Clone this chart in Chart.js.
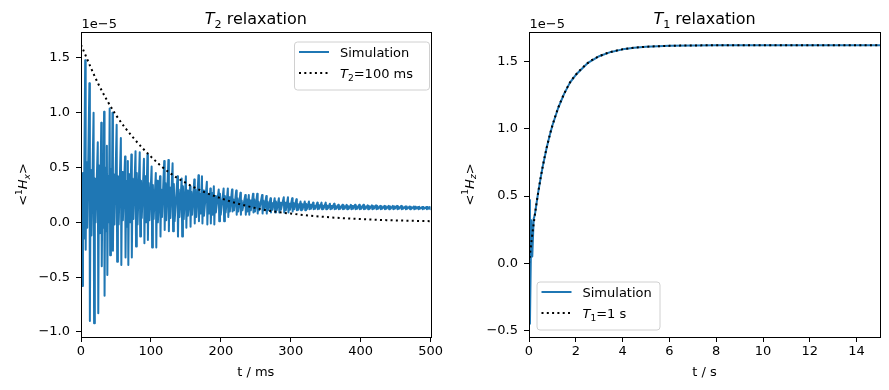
<!DOCTYPE html>
<html>
<head>
<meta charset="utf-8">
<script src="https://cdn.jsdelivr.net/npm/chart.js@4.4.1/dist/chart.umd.min.js"></script>
<style>
  html, body { margin: 0; padding: 0; background: #fff; }
  #wrap { position: relative; width: 889px; height: 390px; }
  .panel { position: absolute; top: 0; height: 390px; }
</style>
</head>
<body>
<div id="wrap">
  <div class="panel" style="left:0;width:445px"><canvas id="chart-t2" width="445" height="390"></canvas></div>
  <div class="panel" style="left:445px;width:444px"><canvas id="chart-t1" width="444" height="390"></canvas></div>
</div>
<script>
// all magnetisation values are in units of 1e-5 (the axis offset text)

// --- T2 panel (t in ms) ---
const t2BarTime = [1, 6, 12, 18, 24, 29, 33, 37, 41, 45,
  51, 57, 63, 67, 72, 78, 84, 90, 95,
  101, 107, 113, 119, 125, 131, 138, 144, 150,
  156, 162, 168, 173, 180, 185, 190, 197, 204,
  210, 216, 222, 228, 235, 240, 246, 252, 259,
  265, 271, 277, 283, 290, 296, 302, 308, 314, 320,
  326, 332, 338, 344, 350, 356, 362, 368, 374, 380, 386, 392, 398,
  404, 410, 416, 422, 428, 434, 440, 446, 452, 458, 464, 470, 476, 482, 488, 494, 499];
const t2BarTop = [0.20, 1.48, 1.27, 1.00, 0.73, 0.91, 1.01, 0.70, 1.04, 1.00,
  0.89, 0.77, 0.60, 0.56, 0.62, 0.65, 0.64, 0.58, 0.62,
  0.51, 0.45, 0.42, 0.56, 0.57, 0.54, 0.42, 0.40, 0.42,
  0.33, 0.39, 0.43, 0.42, 0.37, 0.31, 0.33, 0.30, 0.31,
  0.31, 0.30, 0.29, 0.27, 0.25, 0.25, 0.26, 0.26, 0.25,
  0.24, 0.22, 0.22, 0.22, 0.23, 0.23, 0.22, 0.21, 0.19, 0.19,
  0.19, 0.18, 0.18, 0.18, 0.18, 0.17, 0.17, 0.16, 0.16, 0.16, 0.16, 0.16, 0.16,
  0.16, 0.155, 0.155, 0.155, 0.15, 0.15, 0.15, 0.15, 0.15, 0.15, 0.145, 0.145, 0.145, 0.14, 0.14, 0.14, 0.14];
const t2BarBottom = [-0.58, -0.25, -0.90, -0.92, -0.83, -0.40, -0.67, -0.48, -0.30, -0.26,
  -0.36, -0.39, -0.32, -0.39, -0.32, -0.22, -0.13, -0.19, -0.16,
  -0.23, -0.23, -0.13, -0.07, -0.08, -0.08, -0.13, -0.13, -0.05,
  -0.04, -0.01, 0.01, -0.01, -0.02, -0.01, -0.02, 0.01, 0.01,
  0.05, 0.10, 0.07, 0.07, 0.07, 0.07, 0.09, 0.08, 0.08,
  0.08, 0.09, 0.09, 0.09, 0.09, 0.09, 0.10, 0.11, 0.11, 0.11,
  0.12, 0.12, 0.12, 0.12, 0.12, 0.12, 0.12, 0.12, 0.12, 0.12, 0.12, 0.12, 0.12,
  0.12, 0.12, 0.12, 0.12, 0.12, 0.12, 0.12, 0.12, 0.12, 0.12, 0.12, 0.12, 0.12, 0.12, 0.12, 0.12, 0.12];
// the dense band between the big swings
const t2BandHigh = [0.45, 0.55, 0.48, 0.40, 0.52, 0.45, 0.50, 0.42, 0.48, 0.44,
  0.42, 0.46, 0.38, 0.44, 0.40, 0.45, 0.38, 0.42, 0.36,
  0.34, 0.38, 0.30, 0.36, 0.32, 0.35, 0.30, 0.33, 0.29,
  0.28, 0.30, 0.26, 0.29, 0.25, 0.27, 0.24, 0.26, 0.24,
  0.23, 0.21, 0.22, 0.20, 0.21, 0.20, 0.21, 0.19, 0.20,
  0.19, 0.18, 0.19, 0.18, 0.18, 0.17, 0.18, 0.17, 0.17, 0.17,
  0.16, 0.155, 0.16, 0.155, 0.155, 0.15, 0.155, 0.15, 0.155, 0.15, 0.15, 0.15, 0.15,
  0.15, 0.15, 0.148, 0.15, 0.148, 0.148, 0.148, 0.145, 0.145, 0.145, 0.145, 0.142, 0.142, 0.142, 0.14, 0.14, 0.14];
const t2BandLow = [-0.15, -0.05, -0.12, 0.00, -0.10, -0.05, -0.08, 0.00, -0.06, -0.02,
  -0.02, 0.02, -0.04, 0.00, 0.03, -0.02, 0.04, 0.00, 0.02,
  0.03, 0.00, 0.05, 0.02, 0.04, 0.01, 0.05, 0.03, 0.06,
  0.07, 0.05, 0.08, 0.06, 0.08, 0.07, 0.09, 0.07, 0.09,
  0.10, 0.11, 0.10, 0.11, 0.10, 0.11, 0.10, 0.11, 0.11,
  0.11, 0.115, 0.11, 0.115, 0.11, 0.115, 0.12, 0.115, 0.12, 0.12,
  0.125, 0.125, 0.125, 0.125, 0.125, 0.125, 0.125, 0.125, 0.125, 0.125, 0.125, 0.125, 0.125,
  0.125, 0.125, 0.125, 0.125, 0.125, 0.125, 0.125, 0.125, 0.125, 0.125, 0.125, 0.125, 0.125, 0.125, 0.125, 0.125, 0.125];

const t2FitTime = [0, 25, 50, 75, 100, 125, 150, 175, 200, 225, 250, 275, 300, 325, 350, 375, 400, 425, 450, 475, 500];
const t2FitValue = [1.62, 1.26, 0.98, 0.77, 0.60, 0.46, 0.36, 0.28, 0.22, 0.17, 0.13, 0.10, 0.08, 0.063, 0.049, 0.038, 0.030, 0.023, 0.018, 0.014, 0.011];

const t2XTicks = [0, 100, 200, 300, 400, 500];
const t2YTicks = [-1.0, -0.5, 0.0, 0.5, 1.0, 1.5];

// --- T1 panel (t in s) ---
const t1SimTime = [0, 0.04, 0.1, 0.14, 0.2, 0.25, 0.3, 0.4, 0.5, 0.6, 0.75, 0.9, 1, 1.25, 1.5, 1.75, 2, 2.5, 3, 3.5, 4, 4.5, 5, 6, 7, 8, 10, 12, 15];
const t1SimValue = [0.47, -0.45, 0.32, 0.05, 0.33, 0.36, 0.42, 0.534, 0.637, 0.731, 0.855, 0.961, 1.024, 1.156, 1.259, 1.343, 1.401, 1.487, 1.539, 1.571, 1.59, 1.602, 1.609, 1.616, 1.619, 1.62, 1.62, 1.62, 1.62];
const t1FitTime = [0, 0.1, 0.2, 0.3, 0.4, 0.5, 0.6, 0.75, 0.9, 1, 1.25, 1.5, 1.75, 2, 2.5, 3, 3.5, 4, 4.5, 5, 6, 7, 8, 10, 12, 15];
const t1FitValue = [0, 0.154, 0.294, 0.42, 0.534, 0.637, 0.731, 0.855, 0.961, 1.024, 1.156, 1.259, 1.343, 1.401, 1.487, 1.539, 1.571, 1.59, 1.602, 1.609, 1.616, 1.619, 1.62, 1.62, 1.62, 1.62];

const t1XTicks = [0, 2, 4, 6, 8, 10, 12, 14];
const t1YTicks = [-0.5, 0.0, 0.5, 1.0, 1.5];

const FONT = '"DejaVu Sans", sans-serif';
const BLUE = '#1f77b4';
const DOTS = [2, 3.3];

const fmtY = (v) => (Math.abs(v) < 1e-9 ? '0.0' : v.toFixed(1)).replace('-', '\u2212');

// draws a row of text pieces, mathtext style (italic / sub / sup)
const drawRuns = (ctx, runs, x, y, size, align) => {
  const parts = runs.map((r) => {
    const fs = r.sub || r.sup ? size * 0.7 : size;
    const font = `${r.italic ? 'italic ' : ''}${fs}px ${FONT}`;
    ctx.font = font;
    return { ...r, font, w: ctx.measureText(r.text).width };
  });
  const total = parts.reduce((a, p) => a + p.w, 0);
  let cx = align === 'center' ? x - total / 2 : align === 'right' ? x - total : x;
  ctx.textAlign = 'left';
  ctx.textBaseline = 'alphabetic';
  parts.forEach((p) => {
    ctx.font = p.font;
    const dy = p.sub ? size * 0.22 : p.sup ? -size * 0.42 : 0;
    ctx.fillText(p.text, cx, y + dy);
    cx += p.w;
  });
};

const decorPlugin = {
  id: 'decor',
  afterDraw(chart, args, opts) {
    const { ctx, chartArea: ca } = chart;
    const midX = (ca.left + ca.right) / 2;
    ctx.save();
    ctx.strokeStyle = '#000';
    ctx.lineWidth = 1;
    ctx.strokeRect(Math.round(ca.left) + 0.5, Math.round(ca.top) + 0.5,
      Math.round(ca.right - ca.left), Math.round(ca.bottom - ca.top));

    ctx.fillStyle = '#000';
    drawRuns(ctx, opts.title, midX, 24, 16, 'center');
    drawRuns(ctx, [{ text: '1e\u22125' }], ca.left + 0.5, 28.3, 13, 'left');
    drawRuns(ctx, [{ text: opts.xLabel }], midX, 376, 13, 'center');

    ctx.save();
    ctx.translate(opts.yLabelX, (ca.top + ca.bottom) / 2);
    ctx.rotate(-Math.PI / 2);
    drawRuns(ctx, opts.yLabel, 0, 0, 13, 'center');
    ctx.restore();

    // legend box, matplotlib look
    const lg = opts.legend;
    ctx.beginPath();
    ctx.roundRect(lg.x + 0.5, lg.y + 0.5, lg.w, lg.h, 3);
    ctx.fillStyle = 'rgba(255,255,255,0.8)';
    ctx.fill();
    ctx.strokeStyle = '#d0d0d0';
    ctx.lineWidth = 1;
    ctx.stroke();

    const rows = [
      { y: lg.y + 10.5, color: BLUE, dash: [], runs: [{ text: 'Simulation' }] },
      { y: lg.y + 31.5, color: '#000', dash: DOTS, runs: lg.fitLabel },
    ];
    rows.forEach((row) => {
      ctx.beginPath();
      ctx.setLineDash(row.dash);
      ctx.lineCap = 'butt';
      ctx.strokeStyle = row.color;
      ctx.lineWidth = 2;
      ctx.moveTo(lg.x + 5, row.y);
      ctx.lineTo(lg.x + 35, row.y);
      ctx.stroke();
      ctx.setLineDash([]);
      ctx.fillStyle = '#000';
      drawRuns(ctx, row.runs, lg.x + 46, row.y + 4.8, 13, 'left');
    });
    ctx.restore();
  },
};

const makeOptions = (xMin, xMax, xTicks, yMin, yMax, yTicks, yWidth, rightPad, decor) => ({
  responsive: false,
  animation: false,
  events: [],
  layout: { padding: { top: 32, right: rightPad, bottom: 0, left: 0 } },
  plugins: { legend: { display: false }, tooltip: { enabled: false }, decor },
  scales: {
    x: {
      type: 'linear',
      min: xMin,
      max: xMax,
      afterBuildTicks: (scale) => { scale.ticks = xTicks.map((v) => ({ value: v })); },
      afterFit: (scale) => { scale.height = 53; },
      grid: { drawOnChartArea: false, drawTicks: true, tickLength: 5, tickColor: '#000', lineWidth: 1 },
      border: { display: true, color: '#000', width: 1 },
      ticks: { autoSkip: false, maxRotation: 0, padding: 2, color: '#000', font: { family: FONT, size: 13 }, callback: (v) => String(v) },
    },
    y: {
      type: 'linear',
      min: yMin,
      max: yMax,
      afterBuildTicks: (scale) => { scale.ticks = yTicks.map((v) => ({ value: v })); },
      afterFit: (scale) => { scale.width = yWidth; },
      grid: { drawOnChartArea: false, drawTicks: true, tickLength: 5, tickColor: '#000', lineWidth: 1 },
      border: { display: true, color: '#000', width: 1 },
      ticks: { autoSkip: false, padding: 6, color: '#000', font: { family: FONT, size: 13 }, callback: (v) => fmtY(v) },
    },
  },
});

const lineStyle = {
  pointRadius: 0,
  borderWidth: 2,
  borderJoinStyle: 'round',
  borderCapStyle: 'butt',
  fill: false,
};

// T2 trace: each swing up/down, then through the dense band
const t2Sim = [];
t2BarTime.forEach((t, i) => {
  t2Sim.push({ x: t, y: t2BarTop[i] }, { x: t + 0.7, y: t2BarBottom[i] },
    { x: t + 1.8, y: t2BandHigh[i] }, { x: t + 2.9, y: t2BandLow[i] });
});

new Chart(document.getElementById('chart-t2'), {
  type: 'line',
  data: {
    datasets: [
      { ...lineStyle, label: 'T2=100 ms', data: t2FitTime.map((t, i) => ({ x: t, y: t2FitValue[i] })),
        borderColor: '#000', borderDash: DOTS, cubicInterpolationMode: 'monotone', order: 0 },
      { ...lineStyle, label: 'Simulation', data: t2Sim, borderColor: BLUE, tension: 0, order: 1 },
    ],
  },
  options: makeOptions(0, 500, t2XTicks, -1.046, 1.737, t2YTicks, 81, 13, {
    title: [{ text: 'T', italic: true }, { text: '2', sub: true }, { text: ' relaxation' }],
    xLabel: 't / ms',
    yLabelX: 27,
    yLabel: [{ text: '<' }, { text: '1', sup: true }, { text: 'H', italic: true }, { text: 'x', italic: true, sub: true }, { text: '>' }],
    legend: { x: 294, y: 41.5, w: 135, h: 48,
      fitLabel: [{ text: 'T', italic: true }, { text: '2', sub: true }, { text: '=100 ms' }] },
  }),
  plugins: [decorPlugin],
});

new Chart(document.getElementById('chart-t1'), {
  type: 'line',
  data: {
    datasets: [
      { ...lineStyle, label: 'T1=1 s', data: t1FitTime.map((t, i) => ({ x: t, y: t1FitValue[i] })),
        borderColor: '#000', borderDash: DOTS, cubicInterpolationMode: 'monotone', order: 0 },
      { ...lineStyle, label: 'Simulation', data: t1SimTime.map((t, i) => ({ x: t, y: t1SimValue[i] })),
        borderColor: BLUE, tension: 0, order: 1 },
    ],
  },
  options: makeOptions(0, 15, t1XTicks, -0.548, 1.719, t1YTicks, 84, 9, {
    title: [{ text: 'T', italic: true }, { text: '1', sub: true }, { text: ' relaxation' }],
    xLabel: 't / s',
    yLabelX: 28.5,
    yLabel: [{ text: '<' }, { text: '1', sup: true }, { text: 'H', italic: true }, { text: 'z', italic: true, sub: true }, { text: '>' }],
    legend: { x: 91.5, y: 281.5, w: 123, h: 48,
      fitLabel: [{ text: 'T', italic: true }, { text: '1', sub: true }, { text: '=1 s' }] },
  }),
  plugins: [decorPlugin],
});
</script>
</body>
</html>
